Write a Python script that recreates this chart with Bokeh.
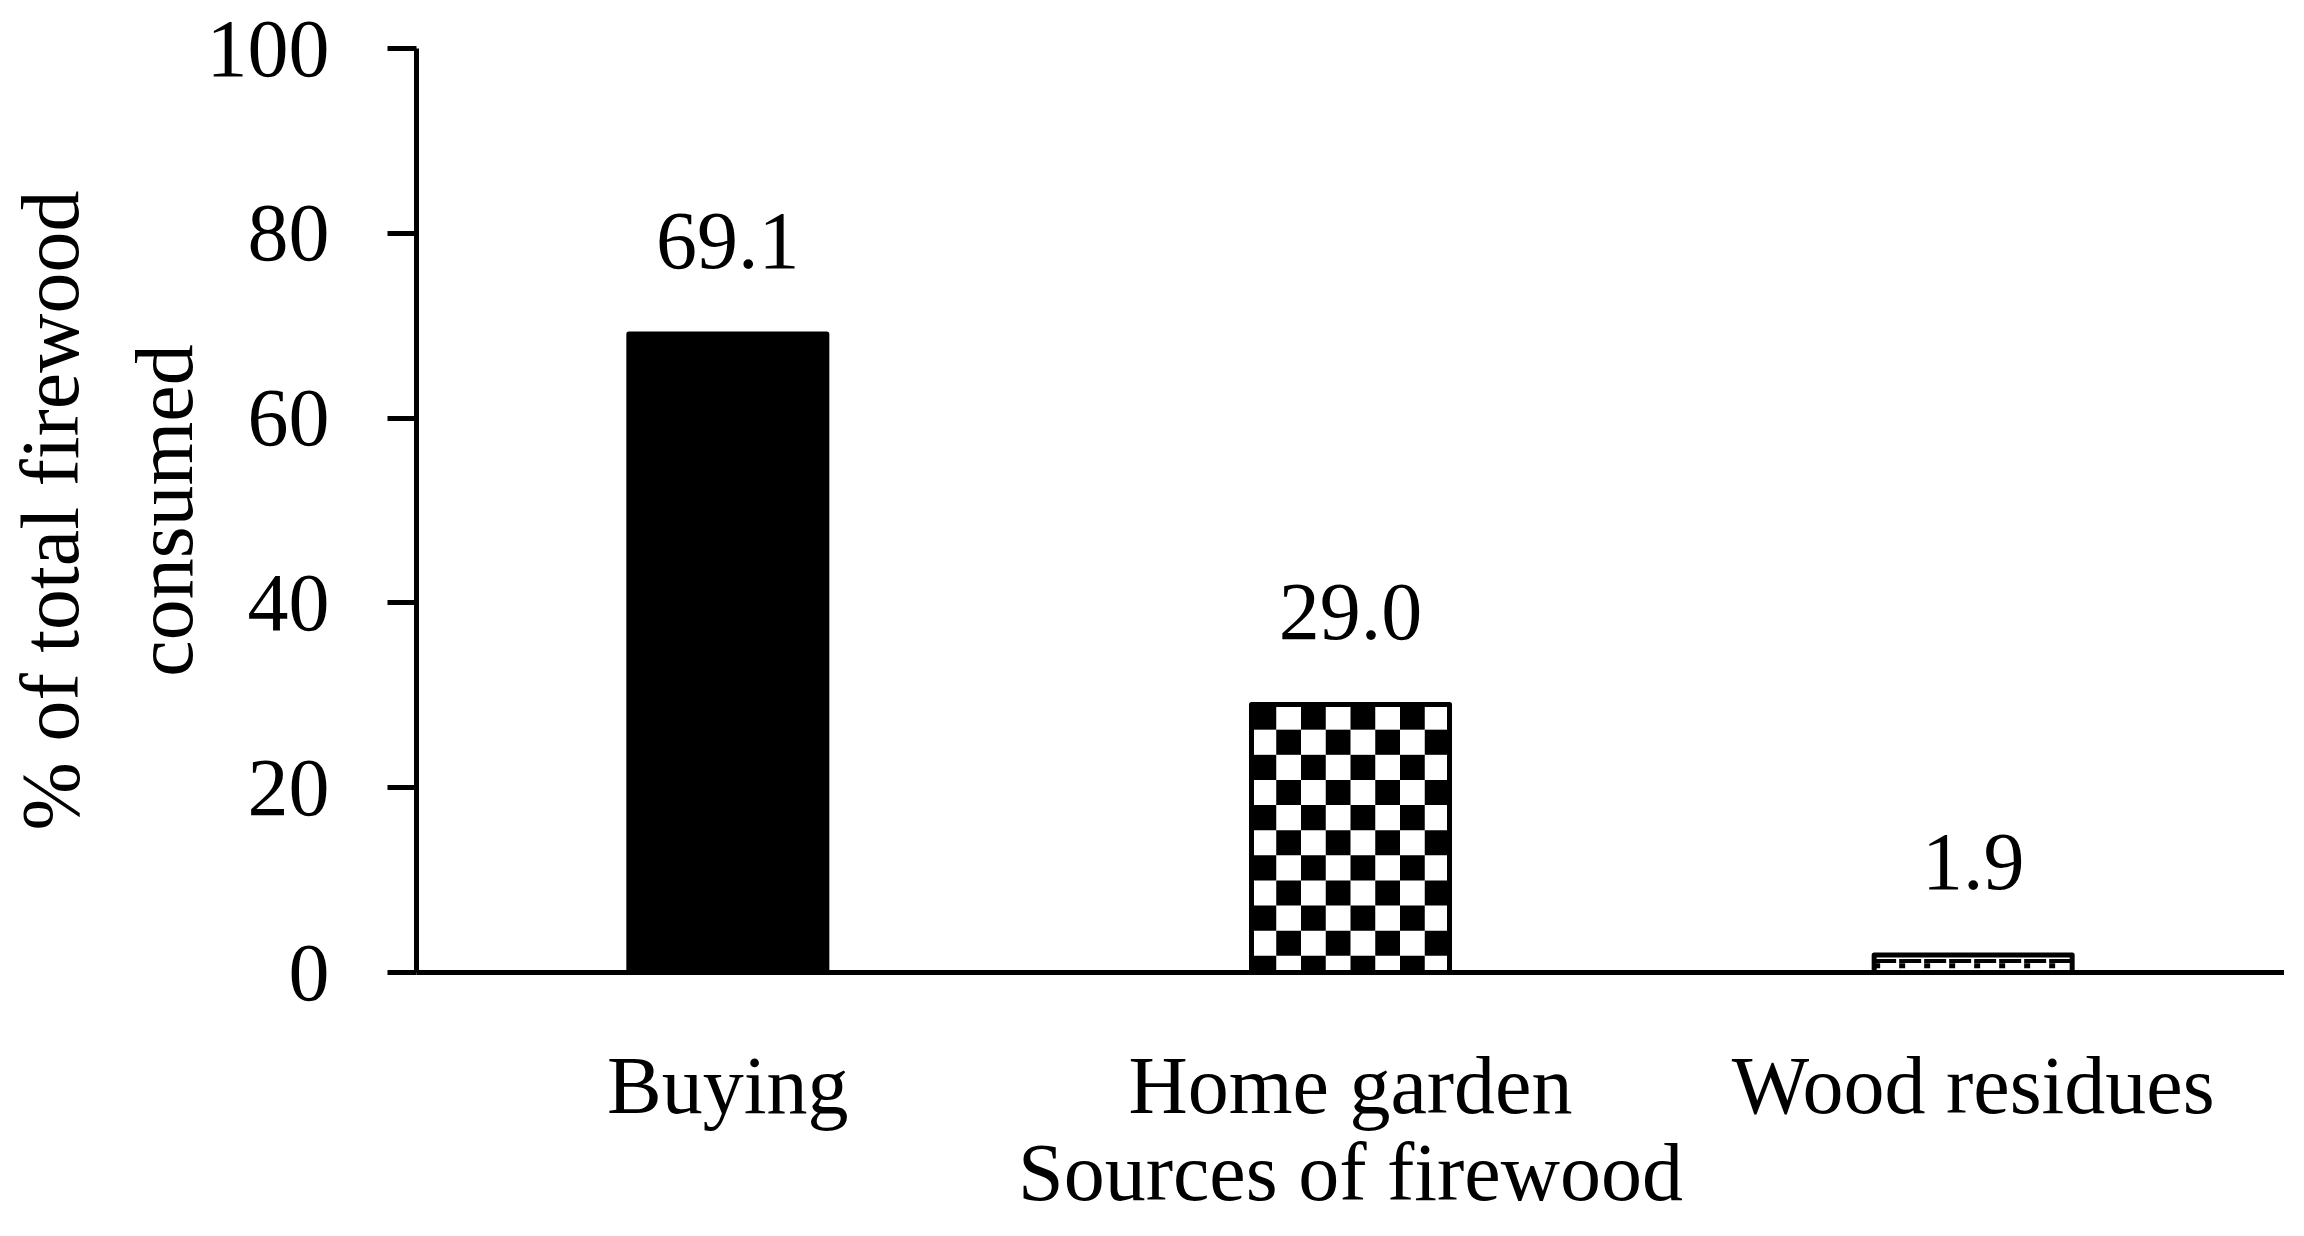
from bokeh.plotting import figure
from bokeh.models import Range1d, FixedTicker
from bokeh.embed import file_html
from bokeh.resources import INLINE
from bokeh.core.properties import value
import numpy as np

# ---- data ----
categories = ["Buying", "Home garden", "Wood residues"]
percent = [69.1, 29.0, 1.9]
value_labels = ["69.1", "29.0", "1.9"]
y_ticks = [0, 20, 40, 60, 80, 100]
x_title = "Sources of firewood"
y_title = "% of total firewood\nconsumed"

# ---- style ----
FONT = "Liberation Serif"
FS = "82px"
BAR_W = 0.318
LW = 5

xpos = [i + 0.5 for i in range(len(categories))]

p = figure(width=2284, height=1220, output_backend="svg", toolbar_location=None,
           x_range=Range1d(0, len(categories)), y_range=Range1d(0, 100),
           min_border_left=416, min_border_right=0, min_border_top=48,
           min_border_bottom=248)
p.outline_line_color = None
p.grid.visible = False

# bar fills
fills = ["black", "white", "white"]
p.vbar(x=xpos, top=percent, width=BAR_W, bottom=0, fill_color=fills, line_color=None)

# checkerboard for "Home garden"
cx, h = xpos[1], percent[1]
ncols, row_h = 8, 2.72
nrows = int(np.ceil(h / row_h))
L, R, T, B = [], [], [], []
cw = BAR_W / ncols
for r in range(nrows):
    top = h - r * row_h
    bot = max(0.0, top - row_h)
    for c in range(ncols):
        if (r + c) % 2 == 0:
            left = cx - BAR_W / 2 + c * cw
            L.append(left); R.append(left + cw); T.append(top); B.append(bot)
p.quad(left=L, right=R, top=T, bottom=B, fill_color="black", line_color=None)

# small dashed pattern for "Wood residues"
wx, wh = xpos[2], percent[2]
p.segment(x0=[wx - BAR_W / 2], x1=[wx + BAR_W / 2], y0=[wh * 0.66], y1=[wh * 0.66],
          line_color="black", line_width=4, line_dash="22 3")
p.segment(x0=[wx - BAR_W / 2], x1=[wx + BAR_W / 2], y0=[wh * 0.38], y1=[wh * 0.38],
          line_color="black", line_width=5, line_dash="6 19")

# bar outlines
p.vbar(x=xpos, top=percent, width=BAR_W, bottom=0, fill_color=None,
       line_color="black", line_width=LW, line_join="round")

# value labels
p.text(x=xpos, y=percent, text=value_labels, text_align="center",
       text_baseline="alphabetic", y_offset=-93, text_color="black",
       text_font=value(FONT), text_font_size=value(FS))

# y axis
ya = p.yaxis[0]
ya.ticker = FixedTicker(ticks=y_ticks)
ya.axis_label = y_title
ya.axis_label_text_font = FONT
ya.axis_label_text_font_size = FS
ya.axis_label_text_font_style = "normal"
ya.axis_label_text_color = "black"
ya.axis_label_text_line_height = 1.25
ya.axis_label_standoff = -6
ya.major_label_text_font = FONT
ya.major_label_text_font_size = FS
ya.major_label_text_color = "black"
ya.major_label_standoff = 58
ya.major_tick_out = 29
ya.major_tick_in = 0
ya.minor_tick_line_color = None
ya.major_tick_line_width = LW
ya.major_tick_line_color = "black"
ya.axis_line_width = LW
ya.axis_line_color = "black"

# x axis
xa = p.xaxis[0]
xa.ticker = FixedTicker(ticks=xpos)
xa.major_label_overrides = {x: c for x, c in zip(xpos, categories)}
xa.axis_label = x_title
xa.axis_label_text_font = FONT
xa.axis_label_text_font_size = FS
xa.axis_label_text_font_style = "normal"
xa.axis_label_text_color = "black"
xa.axis_label_standoff = -7
xa.major_label_text_font = FONT
xa.major_label_text_font_size = FS
xa.major_label_text_color = "black"
xa.major_label_standoff = 67
xa.major_tick_out = 0
xa.major_tick_in = 0
xa.minor_tick_line_color = None
xa.axis_line_width = LW
xa.axis_line_color = "black"

open("out.html", "w").write(file_html(p, INLINE))
